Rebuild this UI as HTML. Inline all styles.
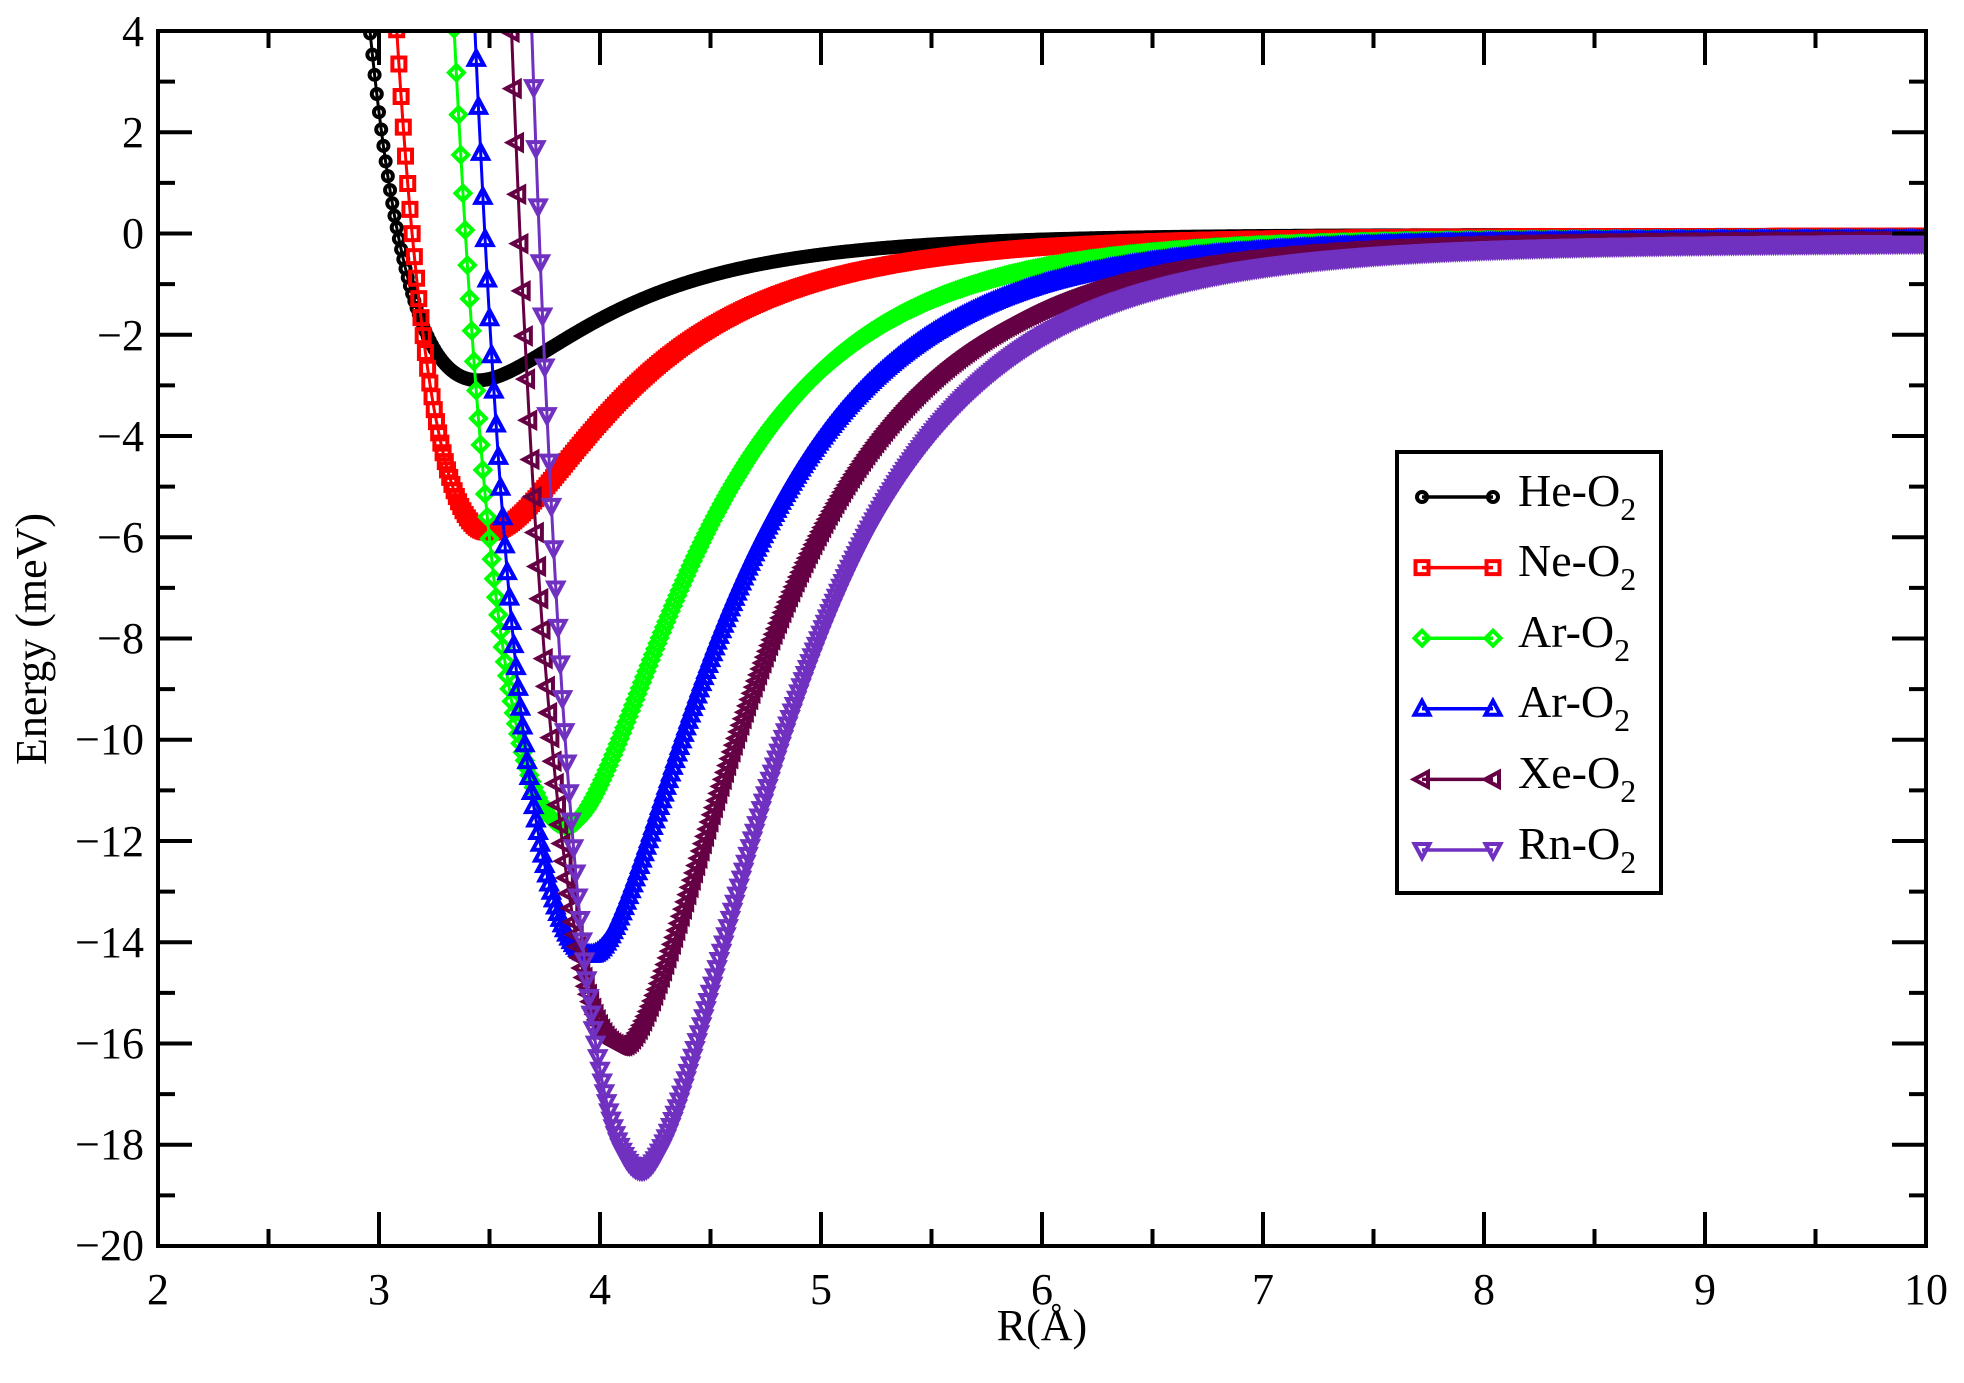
<!DOCTYPE html>
<html><head><meta charset="utf-8"><style>
html,body{margin:0;padding:0;background:#fff;}
svg{display:block;font-family:"Liberation Serif",serif;}
</style></head><body>
<svg id="s" width="1964" height="1383" viewBox="0 0 1964 1383" xmlns="http://www.w3.org/2000/svg">
<defs><clipPath id="c"><rect x="158" y="31" width="1768" height="1215"/></clipPath></defs>
<g id="curves" clip-path="url(#c)"></g>
<g id="axes" stroke="#000" stroke-width="4" fill="none"><rect x="158" y="31" width="1768" height="1215"/></g>
<g font-size="44" text-anchor="end" fill="#000">
<text x="144" y="46">4</text><text x="144" y="147">2</text><text x="144" y="248">0</text>
<text x="144" y="350">−2</text><text x="144" y="451">−4</text><text x="144" y="552">−6</text>
<text x="144" y="653">−8</text><text x="144" y="754">−10</text><text x="144" y="856">−12</text>
<text x="144" y="957">−14</text><text x="144" y="1058">−16</text><text x="144" y="1159">−18</text>
<text x="144" y="1260">−20</text>
</g>
<g font-size="44" text-anchor="middle" fill="#000">
<text x="158" y="1304">2</text><text x="379" y="1304">3</text><text x="600" y="1304">4</text>
<text x="821" y="1304">5</text><text x="1042" y="1304">6</text><text x="1263" y="1304">7</text>
<text x="1484" y="1304">8</text><text x="1705" y="1304">9</text><text x="1926" y="1304">10</text>
<text x="1042" y="1340" font-size="44">R(Å)</text>
<text transform="translate(46,639) rotate(-90)" font-size="44">Energy (meV)</text>
</g>
<g id="legend">
<rect x="1397" y="452" width="264" height="441" fill="#fff" stroke="#000" stroke-width="4"/>
</g>
<g font-size="46" fill="#000">
<text x="1518" y="506">He-O<tspan font-size="32" dy="14">2</tspan></text>
<text x="1518" y="576">Ne-O<tspan font-size="32" dy="14">2</tspan></text>
<text x="1518" y="647">Ar-O<tspan font-size="32" dy="14">2</tspan></text>
<text x="1518" y="717">Ar-O<tspan font-size="32" dy="14">2</tspan></text>
<text x="1518" y="788">Xe-O<tspan font-size="32" dy="14">2</tspan></text>
<text x="1518" y="859">Rn-O<tspan font-size="32" dy="14">2</tspan></text>
</g>
</svg>
<script>
var NS="http://www.w3.org/2000/svg";
function X(r){return 158+(r-2)*221;}
function Y(e){return 31+(4-e)*50.625;}
var ax=document.getElementById("axes");
function ln(p,x1,y1,x2,y2,w){var l=document.createElementNS(NS,"line");l.setAttribute("x1",x1);l.setAttribute("y1",y1);l.setAttribute("x2",x2);l.setAttribute("y2",y2);l.setAttribute("stroke",arguments[6]||"#000");l.setAttribute("stroke-width",w||4);p.appendChild(l);}
for(var i=0;i<=16;i++){var r=2+i*0.5,x=X(r),L=(i%2==0)?34:17;ln(ax,x,1246,x,1246-L);ln(ax,x,31,x,31+L);}
for(var e=-20;e<=4;e++){var y=Y(e),L=(e%2==0)?34:17;ln(ax,158,y,158+L,y);ln(ax,1926,y,1926-L,y);}
var S=[
{c:"#000000",m:"o",rm:3.45,eps:2.9,a:1.90,k:7},
{c:"#ff0000",m:"s",rm:3.5,eps:5.9,a:1.98,k:7},
{c:"#00ff00",m:"d",rm:3.85,eps:11.7,a:1.51,k:8},
{c:"#0000ff",m:"u",rm:3.96,eps:14.25,a:1.44,k:8},
{c:"#660044",m:"l",rm:4.10,eps:16.05,a:1.50,k:8},
{c:"#7030c0",m:"v",rm:4.19,eps:18.5,a:1.49,k:8}];
function E(s,r){if(r<s.rm){var u=Math.exp(-s.a*(r-s.rm));return s.eps*(u*u-2*u);}var q=Math.pow(s.rm/r,s.k);var t=Math.max(0,r-6);return s.eps*(q*q-2*q)-0.008*s.eps*Math.sin(Math.PI*t/8);}
function mk(p,t,x,y,c){var el;
 if(t=="o"){el=document.createElementNS(NS,"circle");el.setAttribute("cx",x);el.setAttribute("cy",y);el.setAttribute("r",5);}
 else{el=document.createElementNS(NS,"polygon");var h=6.5,pts;
  if(t=="s")pts=[[x-h,y-h],[x+h,y-h],[x+h,y+h],[x-h,y+h]];
  if(t=="d")pts=[[x,y-7.5],[x+7.5,y],[x,y+7.5],[x-7.5,y]];
  if(t=="u")pts=[[x,y-8],[x+7.5,y+6],[x-7.5,y+6]];
  if(t=="v")pts=[[x,y+8],[x+7.5,y-6],[x-7.5,y-6]];
  if(t=="l")pts=[[x-8,y],[x+6,y-7.5],[x+6,y+7.5]];
  el.setAttribute("points",pts.map(function(a){return a.join(",")}).join(" "));}
 el.setAttribute("fill","none");el.setAttribute("stroke",c);el.setAttribute("stroke-width",4);p.appendChild(el);}
var g=document.getElementById("curves");
S.forEach(function(s){
 var pts=[],mks=[];
 for(var r=2.5;r<=10.0001;r+=0.01){var e=E(s,r);if(e>6)continue;pts.push(X(r).toFixed(1)+","+Y(e).toFixed(1));mks.push([X(r),Y(e)]);}
 var pl=document.createElementNS(NS,"polyline");pl.setAttribute("points",pts.join(" "));pl.setAttribute("fill","none");pl.setAttribute("stroke",s.c);pl.setAttribute("stroke-width",3);g.appendChild(pl);
 mks.forEach(function(m){mk(g,s.m,m[0],m[1],s.c);});
});
var lg=document.getElementById("legend");
S.forEach(function(s,i){var y=497+i*70.6;ln(lg,1422,y,1493,y,3.5,s.c);mk(lg,s.m,1422,y,s.c);mk(lg,s.m,1493,y,s.c);});
</script>
</body></html>
